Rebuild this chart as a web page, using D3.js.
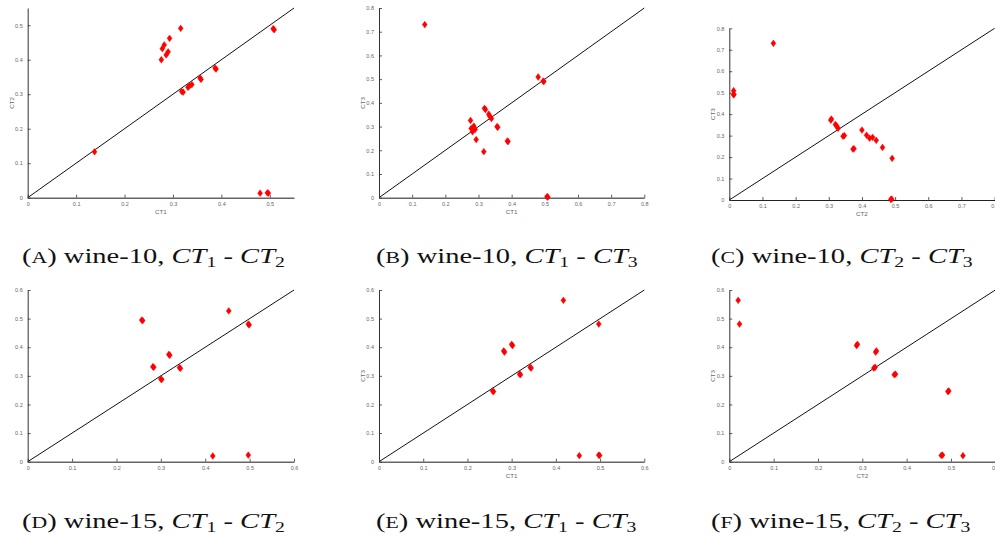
<!DOCTYPE html>
<html>
<head>
<meta charset="utf-8">
<script src="https://cdn.jsdelivr.net/npm/d3@7"></script>
<style>
  html, body { margin: 0; padding: 0; background: #fff; }
  svg { display: block; }
</style>
</head>
<body>
<svg id="chart" width="995" height="536"></svg>
<script>
// ---- data ----
// wine-10: per-point values of CT1, CT2, CT3
const ct1_10 = [0.138, 0.316, 0.293, 0.282, 0.278, 0.276, 0.290, 0.286, 0.318, 0.321, 0.331, 0.334, 0.339, 0.356, 0.358, 0.387, 0.389, 0.507, 0.509, 0.480, 0.495, 0.497];
const ct2_10 = [0.133, 0.491, 0.462, 0.443, 0.432, 0.400, 0.423, 0.414, 0.308, 0.306, 0.320, 0.324, 0.328, 0.347, 0.343, 0.376, 0.373, 0.490, 0.487, 0.013, 0.014, 0.013];
const ct3_10 = [0.730, 0.194, 0.245, 0.278, 0.292, 0.326, 0.288, 0.302, 0.377, 0.372, 0.352, 0.344, 0.334, 0.300, 0.297, 0.239, 0.237, 0.004, 0.003, 0.509, 0.492, 0.490];
// wine-15
const ct1_15 = [0.257, 0.259, 0.453, 0.497, 0.499, 0.497, 0.318, 0.320, 0.282, 0.284, 0.300, 0.302, 0.342, 0.344, 0.417];
const ct2_15 = [0.495, 0.493, 0.527, 0.481, 0.478, 0.023, 0.375, 0.372, 0.332, 0.330, 0.289, 0.287, 0.329, 0.326, 0.020];
const ct3_15 = [0.247, 0.245, 0.021, 0.023, 0.022, 0.481, 0.306, 0.304, 0.387, 0.383, 0.410, 0.406, 0.330, 0.327, 0.564];

const ticks05 = [0, 0.1, 0.2, 0.3, 0.4, 0.5];
const ticks08 = [0, 0.1, 0.2, 0.3, 0.4, 0.5, 0.6, 0.7, 0.8];
const ticks06 = [0, 0.1, 0.2, 0.3, 0.4, 0.5, 0.6];

const captionLetters = ["A", "B", "C", "D", "E", "F"];
const captionSets = ["wine-10", "wine-10", "wine-10", "wine-15", "wine-15", "wine-15"];
const captionPairs = [["1", "2"], ["1", "3"], ["2", "3"], ["1", "2"], ["1", "3"], ["2", "3"]];
const axisNames = ["CT1", "CT2", "CT3"];

// ---- layout ----
const panels = [
  { xs: ct1_10, ys: ct2_10, max: 0.55, ticks: ticks05, x0: 27.7, x1: 294.0, y0: 197.7, y1: 8.0, xl: axisNames[0], yl: axisNames[1] },
  { xs: ct1_10, ys: ct3_10, max: 0.8, ticks: ticks08, x0: 379.0, x1: 644.3, y0: 197.7, y1: 8.0, xl: axisNames[0], yl: axisNames[2] },
  { xs: ct2_10, ys: ct3_10, max: 0.8, ticks: ticks08, x0: 729.3, x1: 994.6, y0: 200.0, y1: 28.3, xl: axisNames[1], yl: axisNames[2], dark: true },
  { xs: ct1_15, ys: ct2_15, max: 0.6, ticks: ticks06, x0: 27.7, x1: 294.0, y0: 461.7, y1: 290.0, xl: null, yl: null },
  { xs: ct1_15, ys: ct3_15, max: 0.6, ticks: ticks06, x0: 379.0, x1: 644.3, y0: 461.7, y1: 290.0, xl: axisNames[0], yl: axisNames[2] },
  { xs: ct2_15, ys: ct3_15, max: 0.6, ticks: ticks06, x0: 729.3, x1: 995.3, y0: 461.7, y1: 290.0, xl: axisNames[1], yl: axisNames[2] }
];
const captionPos = [
  { x: 22, y: 263.5 }, { x: 376, y: 263.5 }, { x: 711, y: 263.5 },
  { x: 22, y: 528.5 }, { x: 376, y: 528.5 }, { x: 711, y: 528.5 }
];

const svg = d3.select("#chart");
const fmt = d => d === 0 ? "0" : d3.format("~g")(d);
const diamond = "M0,-3.4L2.5,0L0,3.4L-2.5,0Z";

panels.forEach(p => {
  const g = svg.append("g");
  const x = d3.scaleLinear().domain([0, p.max]).range([p.x0, p.x1]);
  const y = d3.scaleLinear().domain([0, p.max]).range([p.y0, p.y1]);

  // diagonal
  g.append("line")
    .attr("x1", x(0)).attr("y1", y(0))
    .attr("x2", x(p.max)).attr("y2", y(p.max))
    .attr("stroke", "#111").attr("stroke-width", 1);

  // axes
  const xa = g.append("g").attr("transform", `translate(0,${p.y0})`)
    .call(d3.axisBottom(x).tickValues(p.ticks).tickFormat(fmt).tickSizeInner(-3).tickSizeOuter(0).tickPadding(4));
  const ya = g.append("g").attr("transform", `translate(${p.x0},0)`)
    .call(d3.axisLeft(y).tickValues(p.ticks).tickFormat(fmt).tickSizeInner(-3).tickSizeOuter(0).tickPadding(5));
  xa.select(".domain").attr("stroke", p.dark ? "#222" : "#666").attr("stroke-width", p.dark ? 1.2 : 1.6);
  ya.select(".domain").attr("stroke", "#333").attr("stroke-width", 1);
  [xa, ya].forEach(a => {
    a.selectAll(".tick line").attr("stroke", "#333").attr("stroke-width", 0.8);
    a.selectAll("text").attr("fill", "#666").attr("font-size", 5.5)
      .attr("font-family", "'Liberation Sans', Arial, sans-serif");
  });

  if (p.xl) {
    g.append("text").attr("x", (p.x0 + p.x1) / 2).attr("y", p.y0 + 16)
      .attr("text-anchor", "middle").attr("fill", "#666").attr("font-size", 6.2)
      .attr("font-family", "'Liberation Sans', Arial, sans-serif").text(p.xl);
  }
  if (p.yl) {
    const cy = (p.y0 + p.y1) / 2, cx = p.x0 - 14;
    g.append("text").attr("transform", `translate(${cx},${cy}) rotate(-90)`)
      .attr("text-anchor", "middle").attr("fill", "#666").attr("font-size", 6.2)
      .attr("font-family", "'Liberation Sans', Arial, sans-serif").text(p.yl);
  }

  // markers
  g.append("g").selectAll("path").data(p.xs.map((v, i) => [v, p.ys[i]]))
    .join("path")
    .attr("d", diamond)
    .attr("transform", d => `translate(${x(d[0])},${y(d[1])})`)
    .attr("fill", "#ff0000").attr("stroke", "#ff0000").attr("stroke-width", 0.4);
});

// captions
const capFont = "'Liberation Serif', 'DejaVu Serif', serif";
const captions = captionLetters.map((L, i) => {
  const pos = captionPos[i];
  const t = svg.append("text").attr("x", pos.x).attr("y", pos.y)
    .attr("font-family", capFont).attr("font-size", 21).attr("fill", "#111");
  t.append("tspan").text("(");
  t.append("tspan").attr("font-size", 16).text(L);
  t.append("tspan").text(") " + captionSets[i] + ", ");
  t.append("tspan").attr("font-style", "italic").text("CT");
  t.append("tspan").attr("font-size", 14.5).attr("dy", 4).text(captionPairs[i][0]);
  t.append("tspan").attr("dy", -4).text(" - ");
  t.append("tspan").attr("font-style", "italic").text("CT");
  t.append("tspan").attr("font-size", 14.5).attr("dy", 4).text(captionPairs[i][1]);
  return { t, pos };
});
// stretch captions horizontally to match the wider book face of the original
const w0 = captions[0].t.node().getBBox().width;
const sx = 263 / w0;
captions.forEach(({ t, pos }) => {
  t.attr("transform", `translate(${pos.x},0) scale(${sx},1) translate(${-pos.x},0)`);
});
</script>
</body>
</html>
